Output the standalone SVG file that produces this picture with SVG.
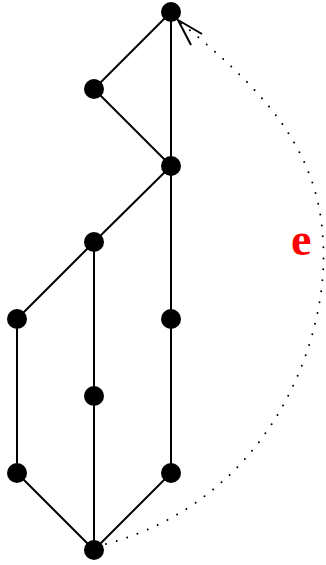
<svg xmlns="http://www.w3.org/2000/svg" width="326" height="565" viewBox="0 0 326 565">
<style>
.e{stroke:#000;stroke-width:2;fill:none}
.n{fill:#000}
.d{stroke:#000;stroke-width:2;fill:none;stroke-dasharray:0 11;stroke-linecap:round}
.lbl{font-family:"Liberation Serif",serif;font-weight:bold;fill:#f00;font-size:46px}
</style>
<rect width="326" height="565" fill="#fff"/>
<g id="connectors">
<line class="e" x1="171" y1="12" x2="94" y2="89"/>
<line class="e" x1="94" y1="89" x2="171" y2="166"/>
<line class="e" x1="171" y1="12" x2="171" y2="166"/>
<line class="e" x1="171" y1="166" x2="94" y2="242"/>
<line class="e" x1="94" y1="242" x2="17" y2="319"/>
<line class="e" x1="94" y1="242" x2="94" y2="550"/>
<line class="e" x1="17" y1="319" x2="17" y2="473"/>
<line class="e" x1="17" y1="473" x2="94" y2="550"/>
<line class="e" x1="171" y1="166" x2="171" y2="473"/>
<line class="e" x1="171" y1="473" x2="94" y2="550"/>
<path class="d" d="M106,544 C270,500 330,340 323,240 C318,140 250,80 180,22"/>
<path class="e" d="M202,34 L178,20 L191,45" stroke-width="1.5"/>
</g>
<g id="nodes">
<circle id="n1" class="n" cx="171" cy="12" r="10"/>
<circle id="n2" class="n" cx="94" cy="89" r="10"/>
<circle id="n3" class="n" cx="171" cy="166" r="10"/>
<circle id="n4" class="n" cx="94" cy="242" r="10"/>
<circle id="n5" class="n" cx="17" cy="319" r="10"/>
<circle id="n6" class="n" cx="171" cy="319" r="10"/>
<circle id="n7" class="n" cx="94" cy="396" r="10"/>
<circle id="n8" class="n" cx="17" cy="473" r="10"/>
<circle id="n9" class="n" cx="171" cy="473" r="10"/>
<circle id="n10" class="n" cx="94" cy="550" r="10"/>
</g>
<text class="lbl" x="291" y="255">e</text>
</svg>
